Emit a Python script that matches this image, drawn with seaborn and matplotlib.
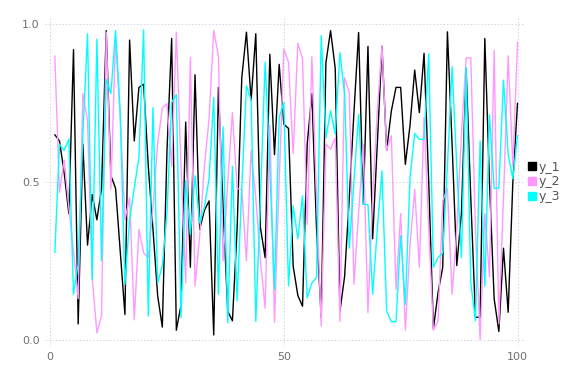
import numpy as np
import pandas as pd
import matplotlib
matplotlib.use("Agg")
import matplotlib.pyplot as plt
from matplotlib.lines import Line2D
import seaborn as sns

# valori (x = 1..100)
x_vals = list(range(1, 101))

y_1 = [0.65, 0.63, 0.53, 0.40, 0.92, 0.05, 0.62, 0.30, 0.46, 0.38,
       0.48, 0.98, 0.52, 0.48, 0.28, 0.08, 0.95, 0.63, 0.80, 0.81,
       0.55, 0.35, 0.14, 0.04, 0.60, 0.955, 0.03, 0.11, 0.69, 0.23,
       0.84, 0.35, 0.41, 0.44, 0.015, 0.80, 0.42, 0.09, 0.06, 0.35,
       0.83, 0.975, 0.76, 0.97, 0.355, 0.26, 0.905, 0.587, 0.873, 0.683,
       0.67, 0.233, 0.14, 0.106, 0.62, 0.78, 0.35, 0.07, 0.878, 0.98,
       0.86, 0.09, 0.20, 0.45, 0.72, 0.974, 0.43, 0.93, 0.32, 0.62,
       0.93, 0.60, 0.725, 0.80, 0.80, 0.556, 0.68, 0.855, 0.72, 0.908,
       0.50, 0.035, 0.15, 0.23, 0.976, 0.62, 0.235, 0.40, 0.86, 0.45,
       0.071, 0.071, 0.955, 0.50, 0.13, 0.026, 0.29, 0.087, 0.50, 0.75]

y_2 = [0.90, 0.467, 0.57, 0.42, 0.28, 0.13, 0.78, 0.695, 0.197, 0.022,
       0.076, 0.975, 0.477, 0.96, 0.70, 0.38, 0.45, 0.063, 0.35, 0.275,
       0.26, 0.42, 0.62, 0.735, 0.748, 0.55, 0.975, 0.55, 0.18, 0.895,
       0.17, 0.33, 0.55, 0.70, 0.98, 0.90, 0.25, 0.50, 0.72, 0.48,
       0.475, 0.25, 0.60, 0.45, 0.25, 0.10, 0.68, 0.055, 0.50, 0.922,
       0.88, 0.59, 0.94, 0.89, 0.365, 0.897, 0.45, 0.043, 0.62, 0.604,
       0.64, 0.058, 0.83, 0.784, 0.176, 0.40, 0.62, 0.086, 0.45, 0.726,
       0.932, 0.60, 0.647, 0.16, 0.40, 0.03, 0.30, 0.477, 0.23, 0.705,
       0.35, 0.03, 0.06, 0.44, 0.48, 0.144, 0.35, 0.65, 0.893, 0.894,
       0.35, 0.0, 0.40, 0.20, 0.918, 0.05, 0.45, 0.90, 0.55, 0.943]

y_3 = [0.276, 0.62, 0.60, 0.636, 0.144, 0.24, 0.65, 0.97, 0.19, 0.953,
       0.25, 0.826, 0.78, 0.98, 0.72, 0.175, 0.38, 0.48, 0.58, 0.982,
       0.075, 0.736, 0.18, 0.234, 0.40, 0.752, 0.777, 0.07, 0.504, 0.334,
       0.52, 0.37, 0.42, 0.51, 0.768, 0.144, 0.675, 0.054, 0.55, 0.123,
       0.48, 0.805, 0.76, 0.058, 0.45, 0.88, 0.55, 0.16, 0.705, 0.752,
       0.17, 0.424, 0.32, 0.456, 0.133, 0.18, 0.197, 0.964, 0.64, 0.726,
       0.652, 0.91, 0.78, 0.29, 0.50, 0.715, 0.43, 0.428, 0.144, 0.35,
       0.535, 0.09, 0.057, 0.057, 0.33, 0.112, 0.514, 0.654, 0.635, 0.635,
       0.906, 0.23, 0.26, 0.276, 0.55, 0.865, 0.55, 0.26, 0.863, 0.18,
       0.06, 0.63, 0.17, 0.713, 0.48, 0.48, 0.823, 0.588, 0.51, 0.647]

series_names = ['y_1', 'y_2', 'y_3']
series_colors = ['#000000', '#ff99ff', '#00ffff']
x_ticks = [0, 50, 100]
y_ticks = [0.0, 0.5, 1.0]

# tabel lung pentru seaborn
df = pd.DataFrame({
    'x': x_vals * 3,
    'y': y_1 + y_2 + y_3,
    'serie': [n for n in series_names for _ in x_vals],
})

sns.set_style('white')
plt.rcParams['font.family'] = ['DejaVu Sans']

fig = plt.figure(figsize=(5.76, 3.84), dpi=100)
ax = fig.add_axes([45 / 576, 1 - 346 / 384, 480 / 576, 328 / 384])

sns.lineplot(data=df, x='x', y='y', hue='serie', palette=series_colors,
             hue_order=series_names, linewidth=1.0, ax=ax, legend=False)

ax.set_xlim(-1.1, 101.6)
ax.set_ylim(-0.02, 1.02)
ax.set_xticks(x_ticks)
ax.set_yticks(y_ticks)
ax.set_yticklabels(['0.0', '0.5', '1.0'])
ax.set_xlabel('')
ax.set_ylabel('')

# grila punctata, fara chenar
ax.grid(True, linestyle=(0, (1.5, 2)), color='#d4d4e4', linewidth=0.7)
for s in ax.spines.values():
    s.set_visible(False)
ax.tick_params(axis='both', length=0, labelsize=8, labelcolor='#707070', pad=4)

handles = [Line2D([0], [0], marker='s', linestyle='none', color=c,
                  markersize=6) for c in series_colors]
leg = ax.legend(handles, series_names, loc='center left',
                bbox_to_anchor=(0.985, 0.5), frameon=False, fontsize=9,
                handletextpad=0.1, borderaxespad=0.2, labelspacing=0.15,
                handlelength=1.0)
for t in leg.get_texts():
    t.set_color('#555555')

fig.savefig('out.png', dpi=100)
